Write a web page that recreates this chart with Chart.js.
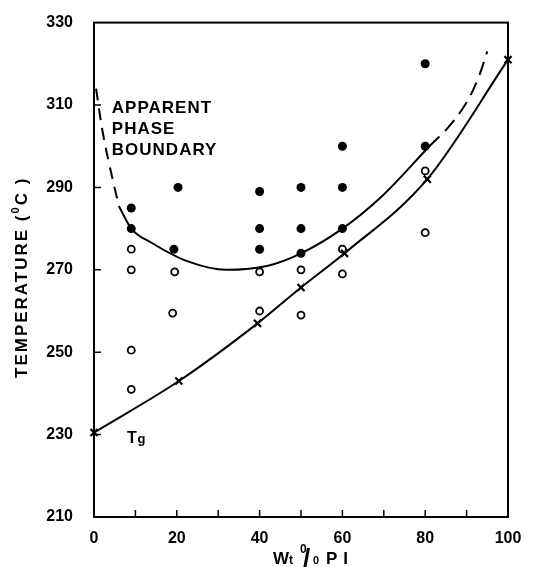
<!DOCTYPE html>
<html>
<head>
<meta charset="utf-8">
<script src="https://cdn.jsdelivr.net/npm/chart.js@4.4.0/dist/chart.umd.min.js"></script>
<style>
  html, body { margin: 0; padding: 0; background: #fff; }
  #wrap { width: 552px; height: 567px; }
</style>
</head>
<body>
<div id="wrap"><canvas id="chart"></canvas></div>
<script>
const xTicks = [0, 20, 40, 60, 80, 100];
const yTicks = [210, 230, 250, 270, 290, 310, 330];

// filled dots
const filledX = [9, 9, 20.3, 19.3, 40, 40, 40, 50, 50, 50, 60, 60, 60, 80, 80];
const filledY = [285, 280, 290, 275, 289, 280, 275, 290, 280, 274, 300, 290, 280, 320, 300];

// open circles
const openX = [9, 9, 9, 9, 19.5, 19, 40, 40, 50, 50, 60, 60, 80, 80];
const openY = [275, 270, 250.5, 241, 269.5, 259.5, 269.5, 260, 270, 259, 269, 275, 279, 294];

// Tg points (crosses), joined by the lower curve
const tgX = [0, 20.5, 39.5, 50, 60.5, 80.5, 100];
const tgY = [230.5, 243, 257, 265.7, 274, 292, 321];

// apparent phase boundary, solid part
const phaseX = [6, 9, 14, 22, 32, 42, 50, 60, 70, 81];
const phaseY = [285.5, 280, 276.5, 272.3, 270, 271, 274, 280, 288.3, 300];

// dashed extensions of the boundary
const dashLeftX = [0.5, 2, 3.6, 6];
const dashLeftY = [314, 304, 296, 285.5];
const dashRightX = [81, 85.5, 89.6, 92.6, 95];
const dashRightY = [300, 304.5, 310, 316, 323];

const pts = (xs, ys) => xs.map((x, i) => ({ x: x, y: ys[i] }));

const FONT = "'Liberation Sans', Arial, sans-serif";

const decor = {
    id: "decor",
    afterDraw(chart) {
        const ctx = chart.ctx;
        const a = chart.chartArea;
        const sx = chart.scales.x, sy = chart.scales.y;
        ctx.save();
        ctx.strokeStyle = "#000";
        ctx.lineWidth = 2;
        ctx.strokeRect(a.left, a.top, a.right - a.left, a.bottom - a.top);

        // inward ticks
        ctx.lineWidth = 1.5;
        ctx.beginPath();
        for (let v = 10; v < 100; v += 10) {
            const px = sx.getPixelForValue(v);
            ctx.moveTo(px, a.bottom);
            ctx.lineTo(px, a.bottom - 7);
        }
        yTicks.slice(1, -1).forEach((v) => {
            const py = sy.getPixelForValue(v);
            ctx.moveTo(a.left, py);
            ctx.lineTo(a.left + 7, py);
        });
        ctx.stroke();

        ctx.fillStyle = "#000";
        ctx.textBaseline = "alphabetic";
        ctx.textAlign = "left";

        // curve label
        ctx.font = "bold 17px " + FONT;
        ctx.letterSpacing = "1px";
        const lx = sx.getPixelForValue(4.3);
        ctx.fillText("APPARENT", lx, sy.getPixelForValue(308));
        ctx.fillText("PHASE", lx, sy.getPixelForValue(303));
        ctx.fillText("BOUNDARY", lx, sy.getPixelForValue(297.8));

        ctx.letterSpacing = "0px";
        ctx.font = "bold 16px " + FONT;
        ctx.fillText("T", sx.getPixelForValue(8), sy.getPixelForValue(228));
        ctx.font = "bold 13px " + FONT;
        ctx.fillText("g", sx.getPixelForValue(10.5), sy.getPixelForValue(228));

        // x title
        const base = 564;
        ctx.font = "bold 17px " + FONT;
        ctx.fillText("W", 273, base);
        ctx.font = "bold 12px " + FONT;
        ctx.fillText("t", 289, base);
        ctx.font = "bold 12px " + FONT;
        ctx.fillText("0", 300, base - 11);
        ctx.font = "bold 26px " + FONT;
        ctx.fillText("/", 303, base + 3);
        ctx.font = "bold 11px " + FONT;
        ctx.fillText("0", 313, base);
        ctx.font = "bold 17px " + FONT;
        ctx.letterSpacing = "6px";
        ctx.fillText("PI", 326, base);

        // y title
        ctx.translate(27, 378);
        ctx.rotate(-Math.PI / 2);
        ctx.font = "bold 17px " + FONT;
        ctx.letterSpacing = "2px";
        ctx.fillText("TEMPERATURE (", 0, 0);
        let w = ctx.measureText("TEMPERATURE (").width;
        ctx.font = "bold 11px " + FONT;
        ctx.fillText("0", w, -8);
        w += ctx.measureText("0").width;
        ctx.font = "bold 17px " + FONT;
        ctx.fillText("C )", w, 0);
        ctx.restore();
    }
};

new Chart(document.getElementById("chart"), {
    type: "scatter",
    data: {
        datasets: [
            {
                label: "boundary",
                data: pts(phaseX, phaseY),
                showLine: true,
                borderColor: "#000",
                borderWidth: 2,
                pointRadius: 0,
                cubicInterpolationMode: "monotone",
            },
            {
                label: "boundary (dashed, left)",
                data: pts(dashLeftX, dashLeftY),
                showLine: true,
                borderColor: "#000",
                borderWidth: 2,
                borderDash: [12, 8],
                pointRadius: 0,
                tension: 0.4,
            },
            {
                label: "boundary (dashed, right)",
                data: pts(dashRightX, dashRightY),
                showLine: true,
                borderColor: "#000",
                borderWidth: 2,
                borderDash: [14, 8],
                pointRadius: 0,
                tension: 0.4,
            },
            {
                label: "Tg",
                data: pts(tgX, tgY),
                showLine: true,
                borderColor: "#000",
                borderWidth: 2,
                cubicInterpolationMode: "monotone",
                pointStyle: "crossRot",
                pointRadius: 5,
                pointBorderWidth: 2.2,
                pointBorderColor: "#000",
            },
            {
                label: "open",
                data: pts(openX, openY),
                pointStyle: "circle",
                pointRadius: 3.5,
                pointBorderWidth: 1.8,
                pointBorderColor: "#000",
                pointBackgroundColor: "#fff",
            },
            {
                label: "filled",
                data: pts(filledX, filledY),
                pointStyle: "circle",
                pointRadius: 4.5,
                pointBorderWidth: 0,
                pointBackgroundColor: "#000",
            },
        ],
    },
    options: {
        responsive: true,
        maintainAspectRatio: false,
        animation: false,
        layout: { padding: { top: 13, right: 44, left: 0, bottom: 0 } },
        plugins: {
            legend: { display: false },
            tooltip: { enabled: false },
        },
        elements: { line: { fill: false } },
        clip: false,
        scales: {
            x: {
                type: "linear",
                min: 0,
                max: 100,
                grid: { display: false },
                border: { display: false },
                afterBuildTicks: (s) => { s.ticks = xTicks.map((v) => ({ value: v })); },
                afterFit: (s) => { s.height = 50; },
                ticks: {
                    padding: 4,
                    color: "#000",
                    maxRotation: 0,
                    font: { family: FONT, size: 16, weight: "bold" },
                },
            },
            y: {
                type: "linear",
                min: 210,
                max: 330,
                grid: { display: false },
                border: { display: false },
                afterBuildTicks: (s) => { s.ticks = yTicks.map((v) => ({ value: v })); },
                afterFit: (s) => { s.width = 94; },
                ticks: {
                    padding: 13,
                    color: "#000",
                    font: { family: FONT, size: 16, weight: "bold" },
                },
            },
        },
    },
    plugins: [decor],
});
</script>
</body>
</html>
